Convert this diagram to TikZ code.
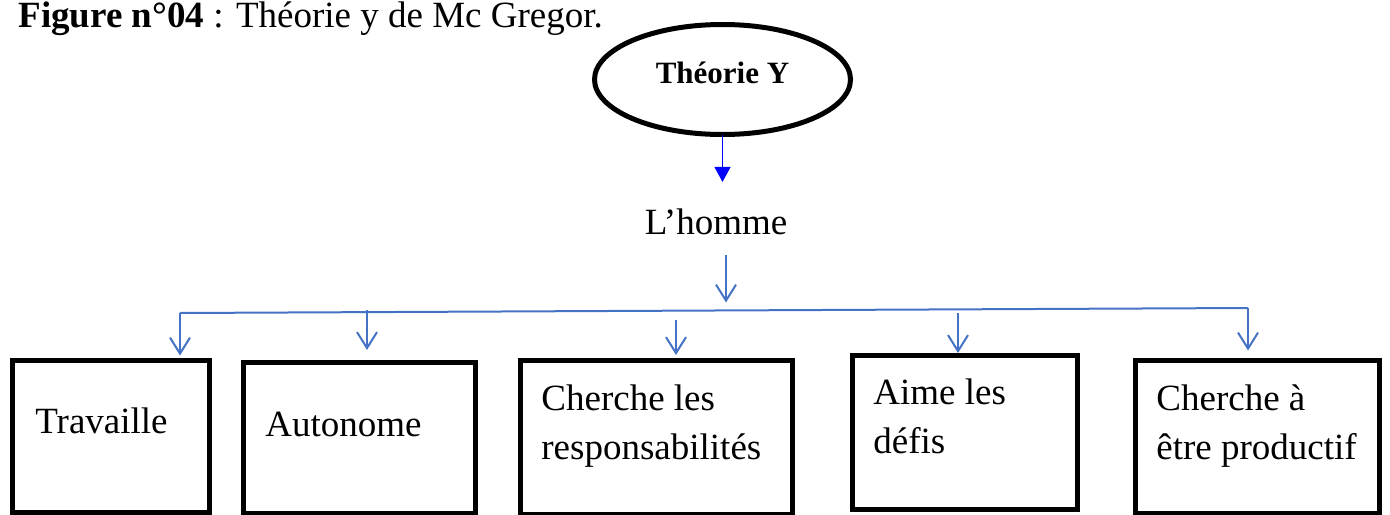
\documentclass[tikz,border=0pt]{standalone}
\usepackage{fontspec}
\setmainfont{Liberation Serif}
\usetikzlibrary{shapes.geometric,arrows.meta}
\definecolor{linkblue}{RGB}{68,114,196}

\begin{document}
\begin{tikzpicture}[x=0.5pt,y=-0.5pt,
  bigtxt/.style={font=\fontsize{18.5}{24.5}\selectfont,inner sep=0pt},
  boxnode/.style={draw,line width=2.5pt,inner sep=0pt,outer sep=0pt,anchor=north west},
  boxtxt/.style={bigtxt,align=left,anchor=base west},
  conn/.style={linkblue,line width=1pt},
  connarrow/.style={conn,-{Straight Barb[length=8pt,width=10pt]}},
  toparrow/.style={blue,line width=0.75pt,-{Triangle[length=7.5pt,width=8pt]}}]
  \useasboundingbox (0,0) rectangle (1390,514);

  \node[bigtxt,anchor=base west] (title) at (18,27)
    {\textbf{Figure n°04} : Théorie y de Mc Gregor.};

  % ellipse at the top
  \node[ellipse,draw,line width=2.5pt,inner sep=0pt,outer sep=0pt,text depth=7pt,
    minimum width=128pt,minimum height=55pt,
    font=\fontsize{15.5}{18}\selectfont\bfseries] (theory) at (722.5,79.5) {Théorie Y};
  \node[bigtxt,anchor=base] (lhomme) at (716,234) {L’homme};
  \draw[toparrow,shorten >=13pt] (theory.south) -- (theory.south |- lhomme.north);

  % the boxes
  \foreach \n/\x/\y/\w/\h in {1/12.5/360.5/98.5/75.75, 2/243.5/362.5/116/75.25,
      3/520.5/360.5/136/76.75, 4/852.5/355.5/112.5/76.75, 5/1135.5/360.5/122/76.25}
    \node[boxnode,minimum width=\w pt,minimum height=\h pt] (b\n) at (\x,\y) {};

  % base of the last line
  \node[boxtxt] (t1) at (35,433) {Travaille};
  \node[boxtxt] (t2) at (265,436) {Autonome};
  \node[boxtxt] (t3) at (541,459) {Cherche les\\responsabilités};
  \node[boxtxt] (t4) at (873,453) {Aime les\\défis};
  \node[boxtxt] (t5) at (1156,459) {Cherche à\\être productif};

  % bus and arrows
  \coordinate (hub) at (726,310.5);
  \coordinate (busL) at (180,313);
  \coordinate (busR) at (1248,308);
  \draw[connarrow,shorten <=10pt,shorten >=4pt] (lhomme.south -| hub) -- (hub);
  \draw[conn] (busL) -- (busR);
  \draw[connarrow,shorten >=2.5pt] (busL) -- (busL |- b1.north);
  \draw[connarrow,shorten >=5pt] (busR) -- (busR |- b5.north);
  \foreach \n/\x/\y/\gap in {2/367/310/6.25pt, 3/676/320/2.75pt, 4/958/313/1.25pt}{
    \coordinate (s\n) at (\x,\y);
    \draw[connarrow,shorten >=\gap] (s\n) -- (s\n |- b\n.north);
  }
\end{tikzpicture}
\end{document}
